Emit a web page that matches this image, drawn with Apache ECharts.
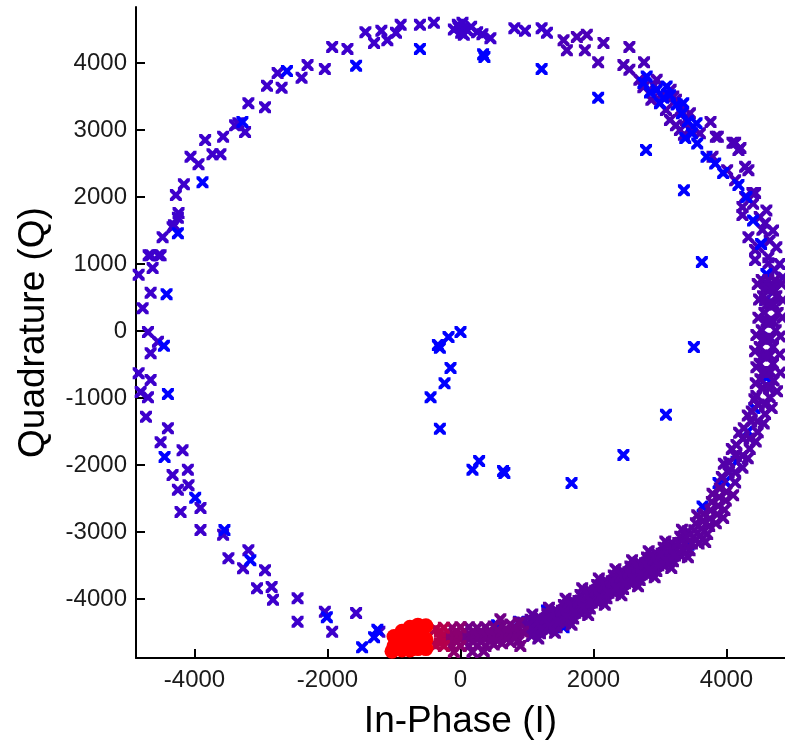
<!DOCTYPE html>
<html>
<head>
<meta charset="utf-8">
<script src="https://cdn.jsdelivr.net/npm/echarts@6/dist/echarts.min.js"></script>
<style>
  html, body { margin: 0; padding: 0; background: #fff; }
  #chart { width: 785px; height: 746px; }
</style>
</head>
<body>
<div id="chart"></div>
<script>
var xTicks = [-4000, -2000, 0, 2000, 4000];
var yTicks = [-4000, -3000, -2000, -1000, 0, 1000, 2000, 3000, 4000];

// early samples: spiral out from the centre, plus stray blue points on the ring
var bluePts = [
  [0, -15], [-180, -90], [-340, -210], [-310, -250], [-150, -550], [-240, -780], [-450, -990],
  [-310, -1460], [280, -1940], [180, -2070], [640, -2090], [660, -2120], [1670, -2270],
  [2450, -1850], [3090, -1250], [3510, -240], [3630, 1030], [3360, 2100], [2790, 2700],
  [2070, 3480], [1220, 3910], [360, 4090], [340, 4130],
  [-610, 4210], [-1570, 3960], [-2610, 3880], [-3280, 3120], [-3880, 2220], [-4250, 1460],
  [-4420, 550], [-4460, -220], [-4400, -940], [-4450, -1880], [-3990, -2490], [-3550, -2970],
  [-3160, -3420], [-2010, -4270], [-1250, -4460], [-1300, -4570], [-1480, -4720],
  [2750, 3700], [2850, 3560], [2950, 3600], [3050, 3480], [3150, 3520], [3250, 3380],
  [3330, 3250], [3420, 3130], [3480, 2950], [3380, 2880], [3560, 2800], [3700, 2600],
  [3830, 2500], [3950, 2360], [4180, 2180], [4300, 2000], [4400, 1650], [4520, 1300],
  [4600, 850], [4700, 400], [4650, -100], [4600, -700], [4420, -1150], [4320, -1500],
  [4150, -1950], [3980, -2250], [3880, -2270], [3640, -2620], [3430, -3190], [3050, -3370],
  [2570, -3570], [2300, -3760], [1550, -4420], [1300, -4170], [880, -4340], [550, -4390],
  [2800, 3800], [3100, 3650], [3350, 3400], [3550, 3100], [3000, 3400]
];

var indigoPts = [
  [-4690, 1130], [-4540, 1130], [-4480, 1400], [-4330, 1550], [-4250, 1690], [-4240, 1760],
  [-4280, 2030], [-4160, 2190], [-4060, 2600], [-3940, 2490], [-3840, 2850], [-3730, 2640],
  [-3610, 2640], [-3570, 2900], [-3390, 3070], [-3340, 3100], [-3240, 2970], [-3190, 3400],
  [-2940, 3340], [-2910, 3660], [-2690, 3630], [-2750, 3850], [-2390, 3780], [-2300, 3970],
  [-2040, 3910], [-1930, 4240], [-1700, 4210], [-1430, 4460], [-1300, 4300], [-1190, 4480],
  [-1100, 4340], [-970, 4450], [-900, 4570], [-610, 4570], [-400, 4600], [-30, 4540], [10, 4450],
  [-40, 4570], [100, 4490], [250, 4460], [450, 4370], [810, 4520], [970, 4480], [1220, 4520],
  [1300, 4450], [30, 4600], [160, 4540], [-100, 4500], [330, 4430], [50, 4420],
  [-4310, 1580], [-4660, 1130], [-4510, 1130], [-4630, 940], [-4840, 840], [-4660, 570],
  [-4780, 340], [-4700, -15], [-4550, -160], [-4660, -330], [-4840, -630], [-4660, -730],
  [-4810, -910], [-4700, -990], [-4730, -1280], [-4400, -1450], [-4510, -1660], [-4180, -1780],
  [-4330, -2150], [-4100, -2070], [-4250, -2370], [-4090, -2300], [-3910, -2640], [-4210, -2700],
  [-3910, -2970], [-3570, -3040], [-3490, -3390], [-3270, -3540], [-3190, -3270], [-2940, -3570],
  [-3060, -3840], [-2840, -3820], [-2820, -4010], [-2450, -3990], [-2450, -4340], [-2040, -4190],
  [-1930, -4490], [-1570, -4210], [-1220, -4490]
];

var violetPts = [
  [1550, 4340], [1600, 4190], [1750, 4390], [1900, 4420], [1870, 4190], [2150, 4300],
  [2070, 4010], [2540, 4240], [2450, 3970], [2540, 3900], [2760, 4010], [2750, 3640],
  [2690, 3750], [2910, 3670], [3010, 3520], [3160, 3600], [3240, 3450], [3310, 3300],
  [3390, 3150], [3460, 3000], [3360, 2930], [3240, 3070], [3090, 3300], [2870, 3450],
  [3490, 3040], [3840, 2900], [3790, 2600], [4130, 2810], [4180, 2700], [3760, 3120],
  [3870, 2900], [4090, 2810], [4210, 2730], [4010, 2400], [4130, 2250], [4280, 2450],
  [4330, 2400], [4390, 2060], [4280, 2000], [4430, 2060], [4240, 1850], [4240, 1730],
  [4580, 1610], [4540, 1510], [4330, 1400], [4480, 1250], [4430, 1210], [4630, 1100],
  [4430, 1060], [4630, 1010], [4580, 720], [4690, 660], [4730, 610], [4580, 460],
  [2950, 3750], [3200, 3500], [3450, 3250], [3600, 2950], [3300, 3000], [3150, 3150],
  [4600, 1800], [4700, 1500], [4750, 1250], [4800, 1000], [4850, 800], [4500, 1700],
  [4650, 1350], [4720, 900], [4400, 1900]
];

var purplePts = [
  [4530, 760], [4730, 760], [4630, 760], [4550, 520], [4750, 520], [4650, 640],
  [4570, 270], [4770, 270], [4670, 400], [4530, 10], [4740, 10], [4640, 140],
  [4500, -240], [4700, -240], [4600, -120], [4500, -490], [4700, -490], [4600, -360],
  [4510, -720], [4710, -740], [4610, -610], [4450, -970], [4650, -990], [4550, -850],
  [4380, -1200], [4580, -1240], [4480, -1100], [4260, -1450], [4470, -1510], [4370, -1340],
  [4150, -1700], [4350, -1760], [4250, -1600], [4040, -1960], [4240, -2040], [4140, -1860],
  [3930, -2180], [4130, -2260], [4030, -2100],
  [4030, -2110], [4130, -2110], [4140, -1865], [4240, -1865], [4250, -1605], [4350, -1605],
  [4370, -1350], [4470, -1350], [4480, -1100], [4580, -1100], [4540, -855], [4640, -855],
  [4560, -610], [4660, -610], [4550, -365], [4650, -365], [4560, -115], [4660, -115],
  [4600, 140], [4700, 140], [4610, 395], [4710, 395], [4590, 640], [4690, 640],
  [4320, -1900], [4440, -1650], [4560, -1380], [4680, -1150], [4760, -900], [4810, -620],
  [4800, -350], [4810, -80], [4840, 200], [4850, 460], [4830, 700],
  [3960, -1980], [4080, -1760], [4190, -1520], [4320, -1260], [4420, -1020], [4440, -780],
  [4450, -540], [4430, -300], [4450, -60], [4480, 200], [4490, 470], [4470, 700]
];

var purple2Pts = [
  [3900, -2350], [4100, -2450], [4000, -2400], [3780, -2550], [3970, -2670], [3875, -2610],
  [3660, -2730], [3840, -2870], [3750, -2800], [3540, -2870], [3710, -3030], [3625, -2950],
  [3420, -2990], [3580, -3170], [3500, -3080], [3305, -3070], [3445, -3270], [3375, -3170],
  [3180, -3160], [3320, -3360], [3250, -3260], [3055, -3235], [3195, -3435], [3125, -3335],
  [2930, -3310], [3070, -3510], [3000, -3410], [2805, -3380], [2945, -3580], [2875, -3480],
  [2680, -3450], [2820, -3650], [2750, -3550], [2555, -3515], [2695, -3715], [2625, -3615],
  [2430, -3580], [2570, -3780], [2500, -3680], [2305, -3650], [2445, -3850], [2375, -3750],
  [2180, -3720], [2320, -3920], [2250, -3820], [2055, -3790], [2195, -3990], [2125, -3890],
  [1930, -3860], [2070, -4060], [2000, -3960], [1805, -3940], [1945, -4140], [1875, -4040],
  [1680, -4020], [1820, -4220], [1750, -4120], [1555, -4090], [1695, -4290], [1625, -4190],
  [1430, -4160], [1570, -4360], [1500, -4260], [1305, -4220], [1445, -4420], [1375, -4320],
  [1180, -4270], [1320, -4470], [1250, -4370], [1055, -4310], [1195, -4510], [1125, -4410],
  [930, -4350], [1070, -4550], [1000, -4450],
  [1025, -4380], [1095, -4480], [1155, -4340], [1225, -4440], [1275, -4295], [1345, -4395],
  [1405, -4240], [1475, -4340], [1525, -4175], [1595, -4275], [1655, -4105], [1725, -4205],
  [1775, -4030], [1845, -4130], [1905, -3950], [1975, -4050], [2025, -3875], [2095, -3975],
  [2155, -3805], [2225, -3905], [2275, -3735], [2345, -3835], [2405, -3665], [2475, -3765],
  [2525, -3600], [2595, -3700], [2655, -3530], [2725, -3630], [2775, -3465], [2845, -3565],
  [2905, -3395], [2975, -3495], [3025, -3325], [3095, -3425], [3155, -3250], [3225, -3350],
  [3275, -3165], [3345, -3265], [3400, -3080], [3480, -3170], [3515, -2975], [3605, -3055],
  [3640, -2840], [3740, -2910], [3760, -2675], [3860, -2735], [3890, -2480], [3990, -2530],
  [1170, -4590], [1420, -4505], [1670, -4385], [1920, -4240], [2170, -4085], [2420, -3945],
  [2670, -3810], [2920, -3675], [3170, -3535], [3420, -3375], [3680, -3150], [3950, -2790],
  [1080, -4230], [1330, -4130], [1580, -3995], [1830, -3840], [2080, -3695], [2330, -3555],
  [2580, -3420], [2830, -3285], [3080, -3140], [3330, -2965], [3560, -2750], [3790, -2430]
];

var plumPts = [
  [875, -4350], [875, -4620], [750, -4380], [750, -4640], [625, -4400], [625, -4660],
  [500, -4410], [500, -4680], [375, -4420], [375, -4700], [250, -4430], [250, -4700],
  [125, -4420], [125, -4700], [940, -4490], [810, -4510], [690, -4530], [560, -4540],
  [440, -4550], [310, -4560], [190, -4560], [60, -4560],
  [815, -4430], [815, -4580], [690, -4450], [690, -4600], [560, -4460], [560, -4620],
  [440, -4470], [440, -4630], [310, -4480], [310, -4640], [190, -4480], [190, -4640],
  [60, -4480], [60, -4640], [600, -4300], [350, -4780], [180, -4790], [900, -4700]
];

var winePts = [
  [0, -4420], [0, -4700], [-125, -4430], [-125, -4700], [-60, -4560], [-190, -4570],
  [-60, -4480], [-60, -4640], [-190, -4490], [-190, -4650], [-100, -4790]
];

var crimsonPts = [
  [-250, -4430], [-250, -4700], [-310, -4570], [-375, -4450], [-375, -4690],
  [-310, -4480], [-310, -4660]
];

// final samples: settle into a tight cluster
var redPts = [
  [-1000, -4700], [-1000, -4560], [-880, -4480], [-880, -4700], [-760, -4420], [-760, -4620],
  [-640, -4390], [-640, -4580], [-640, -4740], [-520, -4400], [-520, -4600], [-520, -4740],
  [-880, -4760], [-760, -4760], [-1030, -4780], [-800, -4560], [-580, -4500]
];

var cross = 'path://M2.4,0L5,2.6L7.6,0L10,0L10,2.4L7.4,5L10,7.6L10,10L7.6,10L5,7.4L2.4,10L0,10L0,7.6L2.6,5L0,2.4L0,0Z';

function mk(data, color, symbol, size) {
  return {
    type: 'scatter',
    data: data,
    symbol: symbol || cross,
    symbolSize: size || 12,
    itemStyle: { color: color, opacity: 1 },
    emphasis: { disabled: true },
    silent: true
  };
}

function plain(v) { return String(v); }

var labelFont = { fontFamily: 'Liberation Sans, Arial, sans-serif', fontSize: 24, color: '#1a1a1a' };

var option = {
  animation: false,
  backgroundColor: '#fff',
  grid: { left: 136, top: 7, width: 654, height: 651 },
  xAxis: {
    type: 'value',
    min: -4880,
    max: 4880,
    name: 'In-Phase (I)',
    nameLocation: 'middle',
    nameGap: 45,
    nameTextStyle: { fontFamily: 'Liberation Sans, Arial, sans-serif', fontSize: 37, color: '#000' },
    axisLine: { show: true, onZero: false, lineStyle: { color: '#000', width: 2 } },
    axisTick: { show: true, inside: true, length: 9, customValues: xTicks, lineStyle: { color: '#000', width: 2 } },
    axisLabel: Object.assign({ customValues: xTicks, margin: 10, formatter: plain }, labelFont),
    splitLine: { show: false }
  },
  yAxis: {
    type: 'value',
    min: -4880,
    max: 4836,
    name: 'Quadrature (Q)',
    nameLocation: 'middle',
    nameGap: 84,
    nameTextStyle: { fontFamily: 'Liberation Sans, Arial, sans-serif', fontSize: 37, color: '#000' },
    axisLine: { show: true, onZero: false, lineStyle: { color: '#000', width: 2 } },
    axisTick: { show: true, inside: true, length: 9, customValues: yTicks, lineStyle: { color: '#000', width: 2 } },
    axisLabel: Object.assign({ customValues: yTicks, margin: 9, formatter: plain }, labelFont),
    splitLine: { show: false }
  },
  series: [
    mk(indigoPts, '#3d00cc'),
    mk(violetPts, '#4a00b8'),
    mk(bluePts, '#0000ff'),
    mk(purplePts, '#5300aa'),
    mk(purple2Pts, '#5c009e'),
    mk(plumPts, '#700088'),
    mk(winePts, '#8a0070'),
    mk(crimsonPts, '#b4004c'),
    mk(redPts, '#ff0000', 'circle', 15)
  ]
};

var chart = echarts.init(document.getElementById('chart'));
chart.setOption(option);
</script>
</body>
</html>
